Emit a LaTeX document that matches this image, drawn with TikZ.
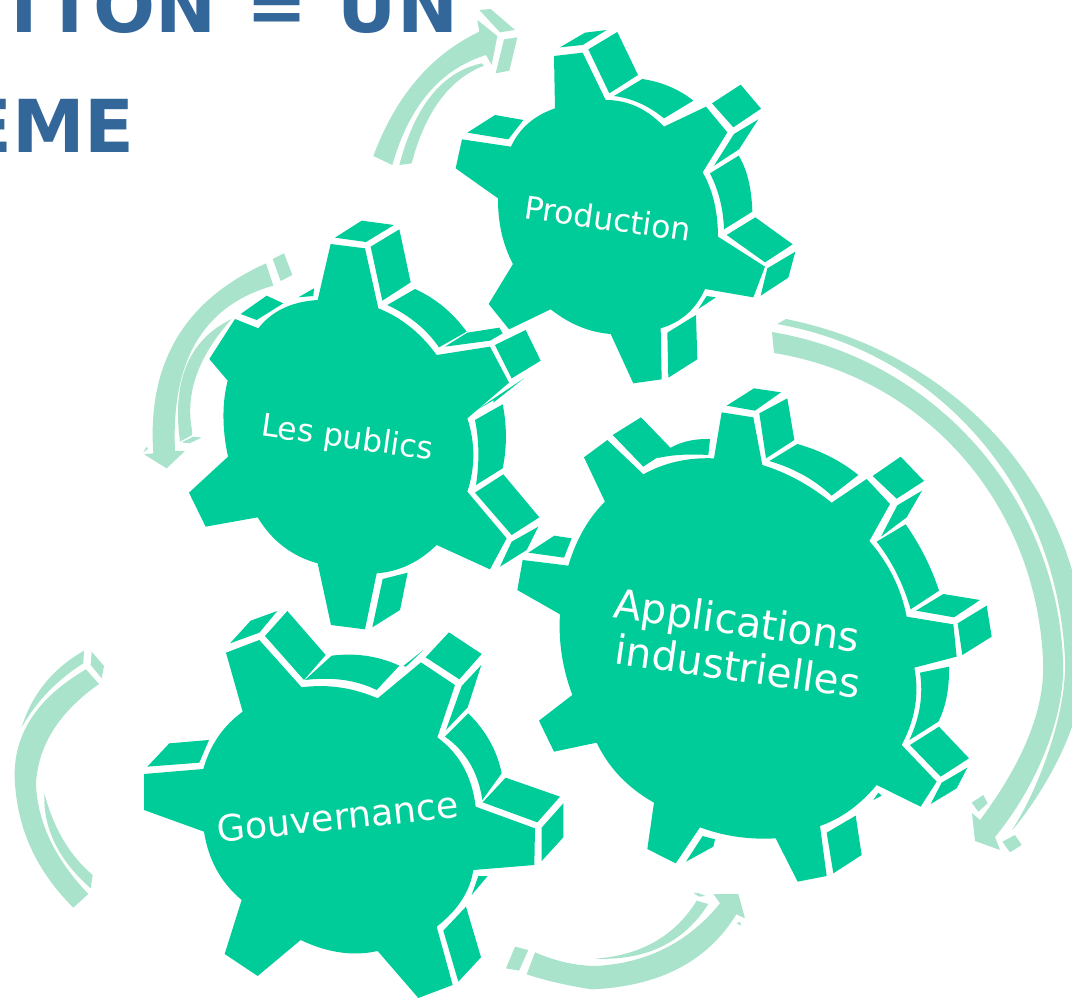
\documentclass[tikz,border=0pt]{standalone}
\usepackage{fontspec}
\usetikzlibrary{calc}
\setmainfont{DejaVu Sans}
\definecolor{gearcol}{HTML}{00CC99}
\definecolor{arrowcol}{HTML}{AAE3CB}
\definecolor{titlecol}{HTML}{336699}
\tikzset{
  gearface/.style={fill=gearcol},
  arrowpart/.style={fill=arrowcol},
  titletext/.style={text=titlecol,font=\bfseries\fontsize{73}{80}\selectfont,inner sep=0pt},
  geartext/.style={text=white,inner sep=0pt,rotate=#1},
  thru/.style={to path={.. controls ($#1+1/6*(\tikztostart)-1/6*(\tikztotarget)$) and ($#1-1/6*(\tikztostart)+1/6*(\tikztotarget)$) .. (\tikztotarget)}},
}
\begin{document}
\begin{tikzpicture}[x=1pt,y=-1pt]
\useasboundingbox (0,0) rectangle (1072,998);
\clip (0,0) rectangle (1072,998);

% title fragments
\node[titletext,anchor=base east] (titleA) at (458.6,33) {T\kern7pt I\kern10.5pt ON\kern4pt\ =\kern5pt\ UN};
\node[titletext,anchor=base east] (titleB) at (135,153) {EME};

% Production gear
\begin{scope}[shift={(440,10)},scale=1/3]
\fill[gearface] (342,138) -- (428,128) -- (497,270) to[thru={(592,283)}] (672,350) -- (798,290) -- (862,367) -- (788,487) to[thru={(826,572)}] (834,680) -- (975,770) -- (940,862) -- (795,837) to[thru={(746,917)}] (662,955) -- (665,1108) -- (580,1120) -- (512,972) to[thru={(419,955)}] (332,898) -- (207,958) -- (146,882) -- (219,762) to[thru={(181,672)}] (174,565) -- (47,475) -- (66,388) -- (213,410) to[thru={(260,336)}] (345,295) -- cycle;
\fill[gearface] (360,112) -- (435,68) -- (500,60) -- (428,105) -- cycle;
\fill[gearface] (445,118) -- (532,66) -- (594,195) -- (508,250) -- cycle;
\fill[gearface] (522,258) -- (607,207) to[thru={(692,227)}] (760,272) -- (672,325) to[thru={(601,276)}] (522,258) -- cycle;
\fill[gearface] (816,280) -- (902,224) -- (963,296) -- (880,352) -- cycle;
\fill[gearface] (882,372) -- (955,328) -- (897,418) -- (822,467) -- cycle;
\fill[gearface] (810,490) -- (896,437) to[thru={(928,506)}] (937,605) -- (852,658) to[thru={(843,569)}] (810,490) -- cycle;
\fill[gearface] (860,675) -- (946,622) -- (1058,703) -- (975,757) -- cycle;
\fill[gearface] (982,775) -- (1066,725) -- (1045,803) -- (962,857) -- cycle;
\fill[gearface] (82,368) -- (165,315) -- (250,330) -- (205,388) -- cycle;
\fill[gearface] (800,858) -- (828,862) -- (775,897) -- cycle;
\fill[gearface] (682,968) -- (768,915) -- (772,1048) -- (685,1103) -- cycle;
\end{scope}

% Les publics gear
\begin{scope}[shift={(130,210)},scale=1/3]
\fill[gearface] (602,102) -- (705,115) -- (745,295) to[thru={(842,345)}] (920,435) -- (1080,410) -- (1137,518) -- (1012,625) to[thru={(1036,735)}] (1012,845) -- (1130,985) -- (1080,1078) -- (920,1005) to[thru={(837,1071)}] (740,1090) -- (705,1258) -- (603,1245) -- (563,1060) to[thru={(456,1016)}] (383,922) -- (227,950) -- (177,848) -- (294,740) to[thru={(276,618)}] (293,512) -- (238,447) -- (315,327) -- (385,355) to[thru={(455,289)}] (563,270) -- cycle;
\fill[gearface] (615,83) -- (695,32) -- (792,45) -- (708,96) -- cycle;
\fill[gearface] (722,110) -- (808,58) -- (842,217) -- (757,272) -- cycle;
\fill[gearface] (772,285) -- (855,237) to[thru={(942,286)}] (1010,365) -- (927,412) to[thru={(864,337)}] (772,285) -- cycle;
\fill[gearface] (945,410) -- (1012,368) -- (1108,353) -- (1118,370) -- (1080,392) -- cycle;
\fill[gearface] (1095,405) -- (1187,360) -- (1232,452) -- (1145,505) -- cycle;
\fill[gearface] (1040,600) -- (1182,505) -- (1090,578) -- (1092,570) -- cycle;
\fill[gearface] (1035,630) -- (1118,583) to[thru={(1131,680)}] (1118,775) -- (1038,825) to[thru={(1048,724)}] (1035,630) -- cycle;
\fill[gearface] (1035,848) -- (1120,793) -- (1228,922) -- (1145,975) -- cycle;
\fill[gearface] (1145,995) -- (1225,950) -- (1190,1020) -- (1110,1070) -- cycle;
\fill[gearface] (758,1107) -- (833,1088) -- (810,1200) -- (727,1252) -- cycle;
\fill[gearface] (332,312) -- (410,257) -- (460,280) -- (380,330) -- cycle;
\fill[gearface] (505,262) -- (552,235) -- (550,258) -- cycle;
\end{scope}

% Applications gear
\begin{scope}[shift={(510,380)},scale=1/3]
\fill[gearface] (635,97) -- (730,112) -- (757,255) to[thru={(864,296)}] (965,368) -- (1070,297) -- (1140,372) -- (1078,483) to[thru={(1155,588)}] (1190,710) -- (1330,733) -- (1340,830) -- (1213,863) to[thru={(1222,980)}] (1175,1095) -- (1280,1205) -- (1232,1280) -- (1100,1215) to[thru={(1022,1295)}] (930,1338) -- (950,1488) -- (863,1505) -- (797,1375) to[thru={(679,1374)}] (570,1342) -- (497,1450) -- (412,1407) -- (432,1268) to[thru={(325,1194)}] (260,1088) -- (132,1115) -- (87,1022) -- (187,945) to[thru={(151,825)}] (150,703) -- (22,630) -- (38,540) -- (175,557) to[thru={(217,446)}] (285,365) -- (222,232) -- (292,180) -- (400,283) to[thru={(498,240)}] (612,235) -- cycle;
\fill[gearface] (650,77) -- (732,25) -- (813,37) -- (735,92) -- cycle;
\fill[gearface] (748,100) -- (832,55) -- (853,180) -- (768,235) -- cycle;
\fill[gearface] (778,243) -- (862,192) to[thru={(962,227)}] (1045,285) -- (965,347) to[thru={(883,282)}] (778,243) -- cycle;
\fill[gearface] (1088,288) -- (1172,230) -- (1242,303) -- (1160,356) -- cycle;
\fill[gearface] (1162,376) -- (1236,332) -- (1190,412) -- (1113,470) -- cycle;
\fill[gearface] (1100,485) -- (1187,433) to[thru={(1248,530)}] (1287,632) -- (1202,688) to[thru={(1163,578)}] (1100,485) -- cycle;
\fill[gearface] (1218,692) -- (1300,642) -- (1410,660) -- (1332,712) -- cycle;
\fill[gearface] (1343,730) -- (1430,677) -- (1445,770) -- (1357,825) -- cycle;
\fill[gearface] (1230,878) -- (1317,860) to[thru={(1313,953)}] (1285,1025) -- (1198,1080) to[thru={(1235,979)}] (1230,878) -- cycle;
\fill[gearface] (1200,1095) -- (1287,1040) -- (1377,1135) -- (1292,1190) -- cycle;
\fill[gearface] (1295,1208) -- (1372,1163) -- (1340,1225) -- (1262,1272) -- cycle;
\fill[gearface] (1090,1260) -- (1105,1238) -- (1115,1247) -- cycle;
\fill[gearface] (950,1358) -- (1037,1307) -- (1055,1425) -- (970,1480) -- cycle;
\fill[gearface] (528,1445) -- (578,1368) -- (615,1378) -- (610,1400) -- cycle;
\fill[gearface] (308,165) -- (393,112) -- (483,205) -- (400,260) -- cycle;
\fill[gearface] (440,235) to[thru={(507,185)}] (600,177) -- (595,225) to[thru={(508,223)}] (440,235) -- cycle;
\fill[gearface] (55,518) -- (133,467) -- (185,475) -- (162,533) -- cycle;
\end{scope}

% Gouvernance gear
\begin{scope}[shift={(130,600)},scale=1/3]
\fill[gearface] (288,158) -- (388,120) -- (515,262) to[thru={(630,257)}] (743,295) -- (873,187) -- (975,255) -- (922,412) to[thru={(1007,495)}] (1037,620) -- (1215,685) -- (1213,795) -- (1030,810) to[thru={(1002,902)}] (920,980) -- (968,1155) -- (865,1194) -- (743,1053) to[thru={(631,1064)}] (512,1020) -- (383,1128) -- (284,1062) -- (335,900) to[thru={(254,814)}] (222,695) -- (42,630) -- (42,522) -- (220,507) to[thru={(260,406)}] (338,335) -- cycle;
\fill[gearface] (300,130) -- (362,62) -- (442,33) -- (388,98) -- cycle;
\fill[gearface] (405,108) -- (472,33) -- (587,165) -- (522,240) -- cycle;
\fill[gearface] (525,240) -- (605,167) to[thru={(711,163)}] (808,197) -- (740,270) to[thru={(643,235)}] (525,240) -- cycle;
\fill[gearface] (820,198) -- (880,150) -- (828,200) -- cycle;
\fill[gearface] (887,172) -- (957,97) -- (1055,162) -- (988,238) -- cycle;
\fill[gearface] (995,258) -- (1054,195) -- (1013,322) -- (948,390) -- cycle;
\fill[gearface] (945,410) -- (1015,340) to[thru={(1085,423)}] (1115,520) -- (1057,600) to[thru={(1026,485)}] (945,410) -- cycle;
\fill[gearface] (1058,607) -- (1127,533) -- (1290,590) -- (1222,667) -- cycle;
\fill[gearface] (1235,683) -- (1300,610) -- (1300,712) -- (1235,783) -- cycle;
\fill[gearface] (1045,828) -- (1073,828) -- (1025,885) -- cycle;
\fill[gearface] (940,992) -- (1008,920) -- (1053,1072) -- (985,1145) -- cycle;
\fill[gearface] (52,500) -- (118,430) -- (237,420) -- (208,488) -- cycle;
\end{scope}

% top arrow
\begin{scope}[shift={(360,0)},scale=1/3]
\fill[arrowpart] (40,468) to[thru={(160,226)}] (358,95) -- (352,60) -- (412,108) -- (395,195) -- (378,165) to[thru={(194,263)}] (97,495) -- cycle;
\fill[arrowpart] (118,495) -- (155,490) to[thru={(232,286)}] (372,197) -- (365,190) to[thru={(206,266)}] (118,495) -- cycle;
\fill[arrowpart] (358,30) -- (392,27) -- (465,90) -- (420,97) -- cycle;
\fill[arrowpart] (432,118) -- (472,112) -- (448,212) -- (407,220) -- cycle;
\end{scope}

% left-upper arrow
\begin{scope}[shift={(130,245)},scale=1/3]
\fill[arrowpart] (408,55) to[thru={(107,260)}] (70,625) -- (42,628) -- (110,670) -- (165,618) -- (135,618) to[thru={(172,263)}] (430,122) -- cycle;
\fill[arrowpart] (428,42) -- (462,25) -- (487,90) -- (452,108) -- cycle;
\fill[arrowpart] (305,222) to[thru={(151,345)}] (150,590) -- (186,570) -- (186,555) to[thru={(185,389)}] (305,222) -- cycle;
\fill[arrowpart] (155,592) -- (190,575) -- (215,578) -- (178,595) -- cycle;
\fill[arrowpart] (40,622) -- (50,605) -- (54,612) -- cycle;
\end{scope}

% far-left arc
\begin{scope}[shift={(0,640)},scale=1/3]
\fill[arrowpart] (258,88) to[thru={(70,234)}] (45,430) to[thru={(83,634)}] (220,803) -- (265,762) to[thru={(138,601)}] (108,430) to[thru={(146,266)}] (297,132) -- cycle;
\fill[arrowpart] (65,262) to[thru={(127,124)}] (252,32) -- (250,70) to[thru={(141,151)}] (65,262) -- cycle;
\fill[arrowpart] (275,35) -- (312,78) -- (305,115) -- (272,75) -- cycle;
\fill[arrowpart] (133,460) to[thru={(185,606)}] (278,705) -- (272,745) to[thru={(152,612)}] (133,460) -- cycle;
\end{scope}

% bottom arrow
\begin{scope}[shift={(495,880)},scale=1/3]
\fill[arrowpart] (95,283) to[thru={(183,309)}] (290,328) to[thru={(565,282)}] (724,103) -- (750,115) -- (730,42) -- (655,42) -- (675,70) to[thru={(517,219)}] (300,258) to[thru={(210,250)}] (120,217) -- cycle;
\fill[arrowpart] (300,236) to[thru={(489,197)}] (605,62) -- (640,72) to[thru={(510,215)}] (300,236) -- cycle;
\fill[arrowpart] (595,38) -- (612,40) -- (632,48) -- (612,50) -- cycle;
\fill[arrowpart] (60,200) -- (100,210) -- (72,272) -- (33,265) -- cycle;
\fill[arrowpart] (725,130) -- (735,125) -- (738,137) -- cycle;
\end{scope}

% big right arrow
\fill[arrowpart] (772,332) .. controls (934,359) and (1056,496) .. (1063,660) .. controls (1066,720) and (1033,791) .. (995,837) -- (1000,850) -- (975,841) -- (972,813) -- (980,820) .. controls (1016,772) and (1046,715) .. (1043,660) .. controls (1036,505) and (927,378) .. (774,353) -- cycle;
\fill[arrowpart] (786,319) .. controls (920,346) and (1033,438) .. (1072,570) -- (1090,640) -- (1080,690) .. controls (1078,730) and (1045,790) .. (1015,827) -- (1012,830) .. controls (1037,792) and (1067,715) .. (1065,660) .. controls (1058,492) and (942,353) .. (777,324) -- cycle;
\begin{scope}[shift={(950,560)},scale=1/3]
\fill[arrowpart] (65,728) -- (100,705) -- (113,730) -- (85,755) -- cycle;
\fill[arrowpart] (157,845) -- (195,825) -- (215,855) -- (180,877) -- cycle;
\end{scope}

% labels
\node[geartext=-8,anchor=base,font=\fontsize{31.5}{36}\selectfont] (lblprod) at (606,230) {Production};
\node[geartext=-8,anchor=base,font=\fontsize{31.4}{36}\selectfont] (lblpub) at (346,448) {Les publics};
\node[geartext=-8,anchor=base,font=\fontsize{40.6}{46}\selectfont] (lblappA) at (735,635) {Applications};
\node[geartext=-8,anchor=base,font=\fontsize{40.6}{46}\selectfont] (lblappB) at (736,681) {industrielles};
\node[geartext=6,anchor=base,font=\fontsize{36.4}{42}\selectfont] (lblgov) at (339,830) {Gouvernance};
\end{tikzpicture}
\end{document}
